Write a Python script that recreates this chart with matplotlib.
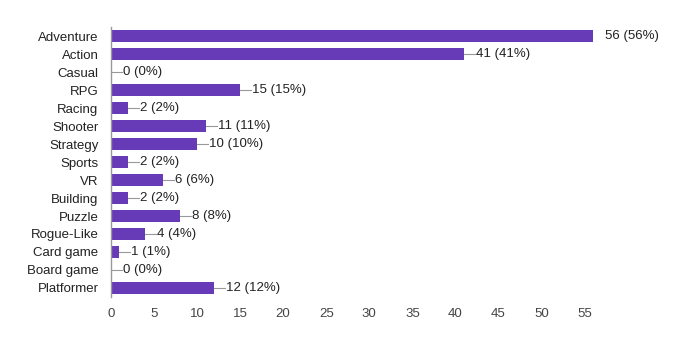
import matplotlib.pyplot as plt
import numpy as np

# survey answers: genre preference
genres = ['Adventure', 'Action', 'Casual', 'RPG', 'Racing', 'Shooter', 'Strategy',
          'Sports', 'VR', 'Building', 'Puzzle', 'Rogue-Like', 'Card game',
          'Board game', 'Platformer']
counts = [56, 41, 0, 15, 2, 11, 10, 2, 6, 2, 8, 4, 1, 0, 12]
percents = [56, 41, 0, 15, 2, 11, 10, 2, 6, 2, 8, 4, 1, 0, 12]
xticks = list(range(0, 60, 5))

plt.rcParams['font.family'] = ['Liberation Sans', 'DejaVu Sans']

fig = plt.figure(figsize=(6.93, 3.4), dpi=100)
ax = fig.add_axes([0.160, 0.1265, 0.696, 0.794])

y = np.arange(len(genres))
ax.barh(y, counts, height=0.62, color='#673ab7', zorder=2)

px = 56 / (0.696 * 693)  # data units per pixel
for i, (c, p) in enumerate(zip(counts, percents)):
    label = '%d (%d%%)' % (c, p)
    if c == max(counts):
        ax.text(c + 12 * px, i, label, va='center', ha='left', fontsize=9.5, color='#222222')
    else:
        ax.plot([c, c + 11 * px], [i, i], color='#999999', lw=0.8, zorder=1, clip_on=False)
        ax.text(c + 12 * px, i, label, va='center', ha='left', fontsize=9.5, color='#222222')

ax.set_xlim(0, 56)
ax.set_ylim(len(genres) - 0.5, -0.5)
ax.set_yticks(y)
ax.set_yticklabels(genres, fontsize=9.5, color='#222222')
ax.set_xticks(xticks)
ax.set_xticklabels([str(t) for t in xticks], fontsize=9.5, color='#444444')
ax.tick_params(length=0)
ax.tick_params(axis='x', pad=8)
ax.tick_params(axis='y', pad=9)
for s in ['top', 'right', 'bottom']:
    ax.spines[s].set_visible(False)
ax.spines['left'].set_color('#999999')
ax.spines['left'].set_linewidth(1)

fig.savefig('out.png', dpi=100)
